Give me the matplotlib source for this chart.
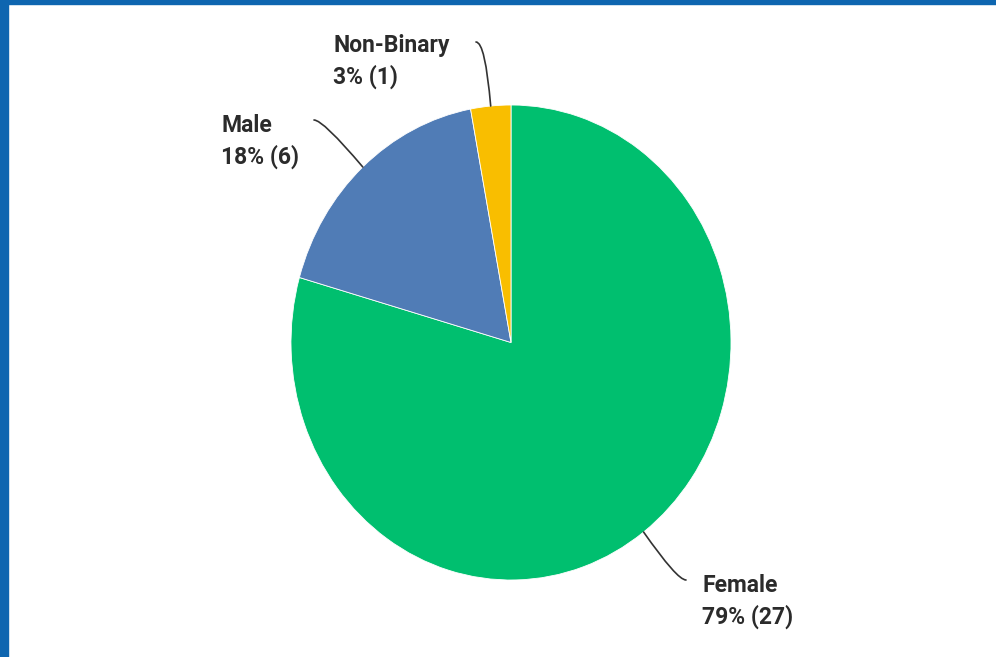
import numpy as np
import matplotlib
matplotlib.use("Agg")
import matplotlib.pyplot as plt
from matplotlib.patches import Rectangle

categories = ["Female", "Male", "Non-Binary"]
counts = [27, 6, 1]
percent_labels = ["79%", "18%", "3%"]
colors = ["#00BF6F", "#507CB6", "#F9BE00"]

W, H = 996, 657
fig = plt.figure(figsize=(W / 100, H / 100), dpi=100)
fig.patch.set_facecolor("white")

# blue frame (left and top)
fig.patches.append(Rectangle((0, 0), 8 / W, 1, transform=fig.transFigure, color="#0E66B0", zorder=0))
fig.patches.append(Rectangle((0, 1 - 4 / H), 1, 4 / H, transform=fig.transFigure, color="#0E66B0", zorder=0))

# pie axes (slightly taller than wide, as in the reference)
cx, cy, rx, ry = 511, 342.5, 220, 237.5
ax = fig.add_axes([(cx - rx) / W, (H - cy - ry) / H, 2 * rx / W, 2 * ry / H])
wedges, _ = ax.pie(counts, colors=colors, startangle=90, counterclock=False, radius=1,
                   wedgeprops=dict(edgecolor="white", linewidth=0.6))
ax.set_xlim(-1, 1)
ax.set_ylim(-1, 1)
ax.set_aspect("auto")
ax.axis("off")

# label placement (image pixel coords: text left x, baseline y of first line, leader end)
label_pos = {
    "Female": dict(x=702, y=592, end=(686, 580)),
    "Male": dict(x=221, y=132, end=(314, 120)),
    "Non-Binary": dict(x=333, y=52, end=(476, 42)),
}
txt_color = "#2b2b2b"
fs = 16.5
font = dict(fontsize=fs, fontfamily="Roboto", fontweight="bold", color=txt_color,
            ha="left", va="baseline")
for w, cat, n, pct in zip(wedges, categories, counts, percent_labels):
    p = label_pos[cat]
    fig.text(p["x"] / W, (H - p["y"]) / H, cat, **font)
    fig.text(p["x"] / W, (H - p["y"] - 32) / H, f"{pct} ({n})", **font)
    mid = np.deg2rad((w.theta1 + w.theta2) / 2)
    xy = (np.cos(mid), np.sin(mid))
    # direction of the radial line in pixel space
    ang = np.degrees(np.arctan2(np.sin(mid) * ry, np.cos(mid) * rx))
    ex, ey = p["end"]
    ax.annotate("", xy=xy, xycoords="data", xytext=(ex, H - ey), textcoords="figure pixels",
                arrowprops=dict(arrowstyle="-", color="#333333", lw=1.2, shrinkA=0, shrinkB=0,
                                connectionstyle=f"angle3,angleA=0,angleB={ang:.1f}"),
                annotation_clip=False)

fig.savefig("out.png", dpi=100, facecolor="white")
